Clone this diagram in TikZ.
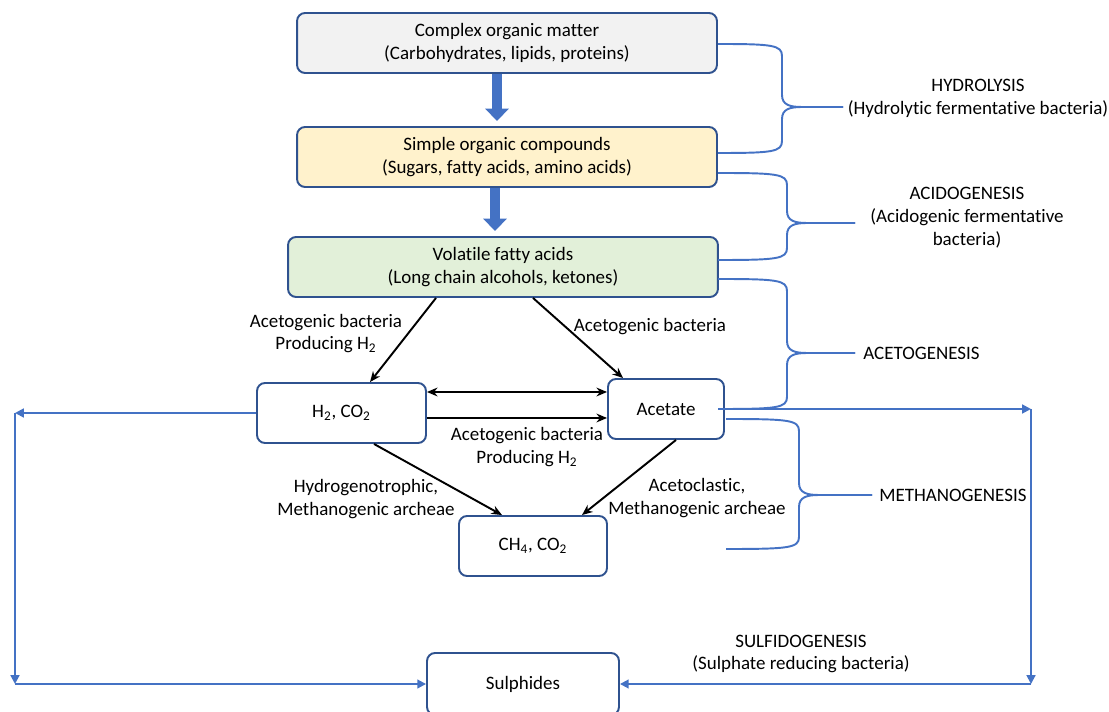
\documentclass[tikz,border=0pt]{standalone}
\usepackage{fontspec}
\setmainfont{Carlito}[Ligatures=NoCommon]
\usepackage{tikz}
\usetikzlibrary{positioning,arrows.meta,calc}
\definecolor{boxblue}{HTML}{2F528F}
\definecolor{lineblue}{HTML}{4472C4}
\definecolor{graybg}{HTML}{F2F2F2}
\definecolor{yellowbg}{HTML}{FFF2CC}
\definecolor{greenbg}{HTML}{E2F0D9}

\begin{document}
\begin{tikzpicture}[x=0.02cm, y=-0.02cm, font=\fontsize{10.8}{13}\selectfont,
    >={Stealth[length=6pt,width=5pt]},
    stage/.style={draw=boxblue, line width=1.1pt, rounded corners=0.16cm,
      minimum height=1.2cm, align=center, inner sep=0pt},
    txtlbl/.style={align=center, inner sep=0pt},
    flow/.style={line width=1.1pt, ->},
    feed/.style={lineblue, line width=1.1pt, -{Triangle[length=5pt,width=5pt]}},
    bigarrow/.style={lineblue, line width=5.7pt,
      -{Triangle[length=7pt,width=13pt]}, shorten >=0.1cm},
    phase/.style={lineblue, line width=1.1pt}]
    \useasboundingbox (0,0) rectangle (1109,712);

    \node[stage, fill=graybg, minimum width=8.4cm] (complex) at (507,43)
      {Complex organic matter\\(Carbohydrates, lipids, proteins)};
    \node[stage, fill=yellowbg, minimum width=8.4cm] (simple) at (507,157)
      {Simple organic compounds\\(Sugars, fatty acids, amino acids)};
    \node[stage, fill=greenbg, minimum width=8.6cm] (vfa) at (503,267)
      {Volatile fatty acids\\(Long chain alcohols, ketones)};
    \node[stage, minimum width=3.38cm] (gas)     at (341.5,413) {H\textsubscript{2}, CO\textsubscript{2}};
    \node[stage, minimum width=2.32cm] (acetate) at (666,409)   {Acetate};
    \node[stage, minimum width=2.96cm] (methane) at (533,546)   {CH\textsubscript{4}, CO\textsubscript{2}};
    \node[stage, minimum width=3.84cm, minimum height=1.24cm] (sulphides) at (523,684) {Sulphides};

    \coordinate (a1) at ($(complex.south)+(-10,0)$);
    \coordinate (a2) at ($(simple.south)+(-12,0)$);
    \draw[bigarrow] (a1) -- (a1 |- simple.north);
    \draw[bigarrow] (a2) -- (a2 |- vfa.north);

    \draw[flow] ($(vfa.south)+(-67,0)$) -- ($(gas.north)+(28.5,0)$);
    \draw[flow] ($(vfa.south)+(30,0)$)  -- ($(acetate.north)+(-43,0)$);
    \coordinate (d1) at ($(gas.east)+(0,-21)$);
    \coordinate (d2) at ($(gas.east)+(0,5)$);
    \draw[flow, <->] (d1) -- (d1 -| acetate.west);
    \draw[flow] (d2) -- (d2 -| acetate.west);
    \draw[flow] ($(gas.south)+(32.5,0)$) -- ($(methane.north)+(-31,0)$);
    \draw[flow] ($(acetate.south)+(10,0)$) -- ($(methane.north)+(49,0)$);

    \coordinate (cl)  at (15,413);
    \coordinate (clb) at (15,684);
    \coordinate (cr)  at (1031,409);
    \coordinate (crb) at (1031,684);
    \draw[feed] (gas.west) -- (cl);
    \draw[feed] (cl) -- (clb);
    \draw[feed] (clb) -- (sulphides.west);
    \draw[feed] (acetate.east) -- (cr);
    \draw[feed] (cr) -- (crb);
    \draw[feed] (crb) -- (sulphides.east);

    \foreach \xa/\ya/\yb/\xb/\xt/\ym in {718/44/153/782/843/107, 718/173/260/787/855/223,
        718/279/409/787/855/353, 726/419/549/799/872/495}{
      \draw[phase] (\xa,\ya) .. controls (\xb-10,\ya) and (\xb,\ya+1) .. (\xb,\ya+12)
        -- (\xb,\ym-12) .. controls (\xb,\ym-2) and (\xb+8,\ym) .. (\xb+20,\ym) -- (\xt,\ym);
      \draw[phase] (\xt,\ym) -- (\xb+20,\ym) .. controls (\xb+8,\ym) and (\xb,\ym+2) .. (\xb,\ym+12)
        -- (\xb,\yb-12) .. controls (\xb,\yb-1) and (\xb-10,\yb) .. (\xa,\yb);
    }

    \node[txtlbl] (lblgas)   at (326,333.5) {Acetogenic bacteria\\Producing H\textsubscript{2}};
    \node[txtlbl] (lblacet)  at (650,327)   {Acetogenic bacteria};
    \node[txtlbl] (lblmid)   at (527,447)   {Acetogenic bacteria\\Producing H\textsubscript{2}};
    \node[txtlbl] (lblhydro) at (366,499)   {Hydrogenotrophic,\\Methanogenic archeae};
    \node[txtlbl] (lblclast) at (697,498)   {Acetoclastic,\\Methanogenic archeae};
    \node[txtlbl] (hydrolysis)   at (978,98.5) {HYDROLYSIS\\(Hydrolytic fermentative bacteria)};
    \node[txtlbl] (acidogenesis) at (967,218)  {ACIDOGENESIS\\(Acidogenic fermentative\\bacteria)};
    \node[txtlbl, anchor=west] (acetogenesis)   at (863,353) {ACETOGENESIS};
    \node[txtlbl, anchor=west] (methanogenesis) at (879,495) {METHANOGENESIS};
    \node[txtlbl] (sulfidogenesis) at (801,654) {SULFIDOGENESIS\\(Sulphate reducing bacteria)};
  \end{tikzpicture}
\end{document}
